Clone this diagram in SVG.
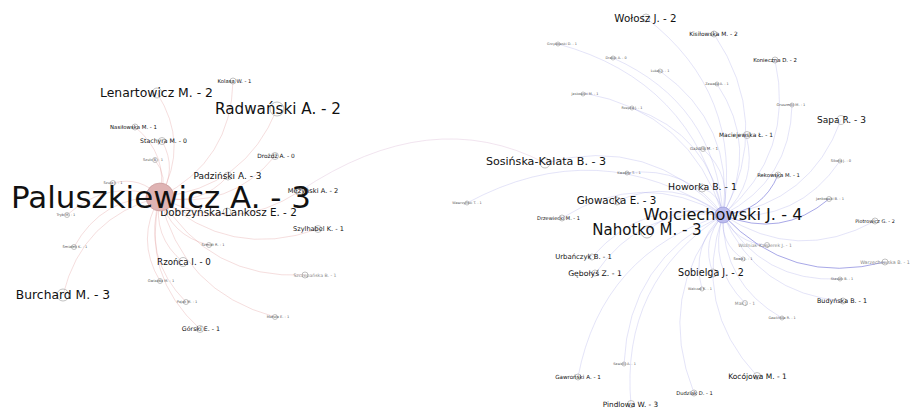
<svg xmlns="http://www.w3.org/2000/svg" width="910" height="408" viewBox="0 0 910 408">
<style>
text{font-family:"DejaVu Sans","Liberation Sans",sans-serif;text-anchor:middle;fill:#111}
.t{fill:#555}
.g{fill:#888}
.el{fill:none;stroke:rgba(222,150,150,0.4);stroke-width:0.8}
.er{fill:none;stroke:rgba(150,150,228,0.32);stroke-width:0.8}
.er2{fill:none;stroke:rgba(110,110,215,0.6);stroke-width:1}
.ex{fill:none;stroke:rgba(215,180,210,0.45);stroke-width:0.8}
circle{fill:#fff;fill-opacity:0.2;stroke:#999;stroke-width:0.6}
#paluszkiewicz circle{fill:#dfb3b3;fill-opacity:1;stroke:#c49494}
#wojciechowski circle{fill:#bcbcee;fill-opacity:1;stroke:#8e8ed4}
</style>
<rect width="910" height="408" fill="#fff"/>
<g id="edges">
<path class="ex" d="M545,163 Q430.9,103.5 300,191"/>
<path class="el" d="M160,197 Q189.7,144.1 157,93"/>
<path class="el" d="M160,197 Q244.9,188.1 277,109"/>
<path class="el" d="M160,197 Q231.3,160.9 233,81"/>
<path class="el" d="M160,197 Q168.5,154.5 135,127"/>
<path class="el" d="M160,197 Q177.8,169.6 162,141"/>
<path class="el" d="M160,197 Q168.6,177 155,160"/>
<path class="el" d="M160,197 Q229.8,211 275,156"/>
<path class="el" d="M160,197 Q200.3,206.9 228,176"/>
<path class="el" d="M160,197 Q231.8,236 300,191"/>
<path class="el" d="M160,197 Q189,224.6 227,212"/>
<path class="el" d="M160,197 Q229.4,260.4 318,229"/>
<path class="el" d="M160,197 Q82.1,216.9 63,295"/>
<path class="el" d="M160,197 Q152,236.4 183,262"/>
<path class="el" d="M160,197 Q140.7,175.9 113,183"/>
<path class="el" d="M160,197 Q108.1,178.1 67,215"/>
<path class="el" d="M160,197 Q102,196.2 74,247"/>
<path class="el" d="M160,197 Q134.8,239 160,281"/>
<path class="el" d="M160,197 Q170.1,235.7 209,245"/>
<path class="el" d="M160,197 Q209.1,279.5 305,275"/>
<path class="el" d="M160,197 Q141.5,257.3 186,302"/>
<path class="el" d="M160,197 Q181.5,291.5 275,317"/>
<path class="el" d="M160,197 Q140.4,275 200,329"/>
<path class="er" d="M723,215 Q743.6,93.4 646,18"/>
<path class="er" d="M723,215 Q772.8,121.8 714,34"/>
<path class="er" d="M723,215 Q795.5,153.1 775,60"/>
<path class="er" d="M723,215 Q810.5,202.9 841,120"/>
<path class="er" d="M723,215 Q691.8,80 558,44"/>
<path class="er" d="M723,215 Q715.1,103.5 613,58"/>
<path class="er" d="M723,215 Q734.7,124.1 660,71"/>
<path class="er" d="M723,215 Q759.3,147.7 717,84"/>
<path class="er" d="M723,215 Q690.1,112.3 584,93"/>
<path class="er" d="M723,215 Q709.6,134.2 632,108"/>
<path class="er" d="M723,215 Q790.5,180.7 792,105"/>
<path class="er" d="M723,215 Q758.5,181.9 746,135"/>
<path class="er" d="M723,215 Q732.8,176 703,149"/>
<path class="er" d="M723,215 Q650.2,134.6 545,163"/>
<path class="er" d="M723,215 Q687.6,165.2 627,173"/>
<path class="er2" d="M723,215 Q762.5,211.5 778,175"/>
<path class="er" d="M723,215 Q797.7,223.1 840,161"/>
<path class="er" d="M723,215 Q720.9,194.7 702,188"/>
<path class="er2" d="M723,215 Q781.3,239.1 829,199"/>
<path class="er" d="M723,215 Q598.1,131.9 467,203"/>
<path class="er" d="M723,215 Q674.2,176.2 617,201"/>
<path class="er" d="M723,215 Q641.6,168.2 562,218"/>
<path class="er" d="M723,215 Q679.9,200.7 647,232"/>
<path class="er" d="M723,215 Q797.2,263.6 875,221"/>
<path class="er" d="M723,215 Q736,243.2 767,245"/>
<path class="er2" d="M723,215 Q790.2,286.6 885,262"/>
<path class="er" d="M723,215 Q644.9,196.7 592,257"/>
<path class="er" d="M723,215 Q719.8,243 743,259"/>
<path class="er" d="M723,215 Q641.3,206.1 595,274"/>
<path class="er" d="M723,215 Q700.6,241 713,273"/>
<path class="er" d="M723,215 Q762,282.6 840,279"/>
<path class="er" d="M723,215 Q690.3,245.7 702,289"/>
<path class="er" d="M723,215 Q707.6,265.6 745,303"/>
<path class="er" d="M723,215 Q757.2,294 843,301"/>
<path class="er" d="M723,215 Q721.9,283.7 782,318"/>
<path class="er" d="M723,215 Q601.9,252.5 578,377"/>
<path class="er" d="M723,215 Q628.8,259.8 624,364"/>
<path class="er" d="M723,215 Q691.7,305.7 757,376"/>
<path class="er" d="M723,215 Q655.1,295.3 694,393"/>
<path class="er" d="M723,215 Q619.8,281.6 631,405"/>
</g>
<g id="lenartowicz"><circle cx="157" cy="93" r="5"/><text x="156.5" y="93" dy=".35em" font-size="12.4">Lenartowicz M. - 2</text></g>
<g id="radwanski"><circle cx="277" cy="109" r="7"/><text x="278" y="109" dy=".35em" font-size="15.2">Radwański A. - 2</text></g>
<g id="kolasa"><circle cx="233" cy="81" r="3"/><text x="234.5" y="81" dy=".35em" font-size="5.3">Kolasa W. - 1</text></g>
<g id="nasilowska"><circle cx="135" cy="127" r="3"/><text x="133.5" y="127" dy=".35em" font-size="5.4">Nasiłowska M. - 1</text></g>
<g id="stachyra"><circle cx="162" cy="141" r="3.5"/><text x="163.5" y="141" dy=".35em" font-size="6.2">Stachyra M. - 0</text></g>
<g id="szulc"><circle cx="155" cy="160" r="2.5"/><text class="t" x="153" y="160" dy=".35em" font-size="3.6">Szulc B. - 1</text></g>
<g id="drozdz"><circle cx="275" cy="156" r="3.5"/><text x="276" y="156" dy=".35em" font-size="5.9">Drożdż A. - 0</text></g>
<g id="padzinski"><circle cx="228" cy="176" r="4"/><text x="227.5" y="176" dy=".35em" font-size="9">Padziński A. - 3</text></g>
<g id="mezynski"><circle cx="300" cy="191" r="3.5"/><text x="313" y="191" dy=".35em" font-size="6.7">Mężyński A. - 2</text></g>
<g id="szylhabel"><circle cx="318" cy="229" r="3.5"/><text x="318.5" y="229" dy=".35em" font-size="6.6">Szylhabel K. - 1</text></g>
<g id="burchard"><circle cx="63" cy="295" r="6"/><text x="63" y="295" dy=".35em" font-size="12.3">Burchard M. - 3</text></g>
<g id="rzonca"><circle cx="183" cy="262" r="4.5"/><text x="184" y="262" dy=".35em" font-size="8.7">Rzońca I. - 0</text></g>
<g id="szuja"><circle cx="113" cy="183" r="2.5"/><text class="t" x="113" y="183" dy=".35em" font-size="3.6">Szuja J. - 1</text></g>
<g id="tryb"><circle cx="67" cy="215" r="2.5"/><text class="t" x="66" y="215" dy=".35em" font-size="3.6">Tryb M. - 1</text></g>
<g id="smialek"><circle cx="74" cy="247" r="2.5"/><text class="t" x="75" y="247" dy=".35em" font-size="3.6">Śmiałek K. - 1</text></g>
<g id="gwiazda"><circle cx="160" cy="281" r="2.5"/><text class="t" x="161" y="281" dy=".35em" font-size="3.6">Gwiazda M. - 1</text></g>
<g id="szmidt"><circle cx="209" cy="245" r="2.5"/><text class="t" x="213" y="245" dy=".35em" font-size="3.6">Szmidt R. - 1</text></g>
<g id="szczepanska"><circle cx="305" cy="275" r="3"/><text class="g" x="315" y="275" dy=".35em" font-size="4.6">Szczepańska B. - 1</text></g>
<g id="pajak"><circle cx="186" cy="302" r="2.5"/><text class="t" x="187" y="302" dy=".35em" font-size="3.6">Pająk M. - 1</text></g>
<g id="matula"><circle cx="275" cy="317" r="2.5"/><text class="t" x="278" y="317" dy=".35em" font-size="3.6">Matuła E. - 1</text></g>
<g id="gorski"><circle cx="200" cy="329" r="3.5"/><text x="201" y="329" dy=".35em" font-size="6.3">Górski E. - 1</text></g>
<g id="dobrzynska"><circle cx="227" cy="212" r="4"/><text x="228.5" y="212" dy=".35em" font-size="10.4">Dobrzyńska-Lankosz E. - 2</text></g>
<g id="paluszkiewicz"><circle cx="160" cy="197" r="14"/><text x="161" y="197" dy=".35em" font-size="30.9">Paluszkiewicz A. - 3</text></g>
<g id="wolosz"><circle cx="646" cy="18" r="4"/><text x="645.5" y="18" dy=".35em" font-size="10.3">Wołosz J. - 2</text></g>
<g id="kisilowska"><circle cx="714" cy="34" r="3"/><text x="713.5" y="34" dy=".35em" font-size="5.9">Kisiłowska M. - 2</text></g>
<g id="konieczna"><circle cx="775" cy="60" r="3"/><text x="775" y="60" dy=".35em" font-size="5.4">Konieczna D. - 2</text></g>
<g id="sapa"><circle cx="841" cy="120" r="4.5"/><text x="841.5" y="120" dy=".35em" font-size="9">Sapa R. - 3</text></g>
<g id="grzybowski"><circle cx="558" cy="44" r="2"/><text class="t" x="562" y="44" dy=".35em" font-size="3.4">Grzybowski D. - 1</text></g>
<g id="drabik"><circle cx="613" cy="58" r="2"/><text class="t" x="616" y="58" dy=".35em" font-size="3.4">Drabik A. - 0</text></g>
<g id="lubas"><circle cx="660" cy="71" r="2"/><text class="t" x="660" y="71" dy=".35em" font-size="3.4">Lubas J. - 1</text></g>
<g id="zawada"><circle cx="717" cy="84" r="2"/><text class="t" x="717" y="84" dy=".35em" font-size="3.4">Zawada A. - 1</text></g>
<g id="jaskowski"><circle cx="583" cy="94" r="2"/><text class="t" x="585" y="94" dy=".35em" font-size="3.4">Jaskowski M. - 1</text></g>
<g id="rzepka"><circle cx="632" cy="108" r="2"/><text class="t" x="632" y="108" dy=".35em" font-size="3.4">Rzepka J. - 1</text></g>
<g id="gruszecki"><circle cx="792" cy="105" r="2"/><text class="t" x="791" y="105" dy=".35em" font-size="3.6">Gruszecki M. - 1</text></g>
<g id="maciejewska"><circle cx="747" cy="135" r="3.5"/><text x="746" y="135" dy=".35em" font-size="5.9">Maciejewska Ł. - 1</text></g>
<g id="gazdzik"><circle cx="703" cy="149" r="2.5"/><text class="t" x="704" y="149" dy=".35em" font-size="4">Gaździk M. - 1</text></g>
<g id="sosinska"><circle cx="545" cy="163" r="5"/><text x="546" y="161" dy=".35em" font-size="11.1">Sosińska-Kalata B. - 3</text></g>
<g id="kwasny"><circle cx="627" cy="173" r="2"/><text class="t" x="629" y="173" dy=".35em" font-size="3.6">Kwaśny T. - 1</text></g>
<g id="rekowska"><circle cx="778" cy="175" r="3"/><text x="778.5" y="175" dy=".35em" font-size="5.3">Rekowska M. - 1</text></g>
<g id="sikora"><circle cx="840" cy="161" r="2"/><text class="t" x="841" y="161" dy=".35em" font-size="3.6">Sikora J. - 0</text></g>
<g id="howorka"><circle cx="702" cy="188" r="4"/><text x="702.5" y="187" dy=".35em" font-size="9.4">Howorka B. - 1</text></g>
<g id="jankowski"><circle cx="829" cy="199" r="2.5"/><text class="t" x="830" y="199" dy=".35em" font-size="3.6">Jankowski B. - 1</text></g>
<g id="wawrzynski"><circle cx="467" cy="203" r="2"/><text class="t" x="467" y="203" dy=".35em" font-size="3.4">Wawrzyński T. - 1</text></g>
<g id="glowacka"><circle cx="617" cy="201" r="4"/><text x="616.5" y="200" dy=".35em" font-size="10.3">Głowacka E. - 3</text></g>
<g id="drzewiecki"><circle cx="562" cy="218" r="3"/><text x="558.5" y="218" dy=".35em" font-size="5">Drzewiecki M. - 1</text></g>
<g id="piotrowicz"><circle cx="875" cy="221" r="3"/><text x="875" y="221" dy=".35em" font-size="4.9">Piotrowicz G. - 2</text></g>
<g id="wozniak"><circle cx="767" cy="245" r="2.5"/><text class="g" x="765" y="245" dy=".35em" font-size="4.6">Woźniak-Kasperek J. - 1</text></g>
<g id="warzechowska"><circle cx="885" cy="262" r="3"/><text class="g" x="885" y="262" dy=".35em" font-size="4.8">Warzęchowska B. - 1</text></g>
<g id="urbanczyk"><circle cx="592" cy="257" r="3"/><text x="583.5" y="257" dy=".35em" font-size="6.9">Urbańczyk B. - 1</text></g>
<g id="sowa"><circle cx="743" cy="259" r="2"/><text class="t" x="743" y="259" dy=".35em" font-size="3.6">Sowa J. - 1</text></g>
<g id="gebolys"><circle cx="595" cy="273" r="3"/><text x="595" y="273" dy=".35em" font-size="7.7">Gębołyś Z. - 1</text></g>
<g id="stasiak"><circle cx="840" cy="279" r="2"/><text class="t" x="842" y="279" dy=".35em" font-size="3.4">Stasiak B. - 1</text></g>
<g id="walczak"><circle cx="702" cy="289" r="2"/><text class="t" x="700" y="289" dy=".35em" font-size="3.4">Walczak K. - 1</text></g>
<g id="mak"><circle cx="745" cy="303" r="2.5"/><text class="g" x="745" y="303" dy=".35em" font-size="4.4">Mak J. - 1</text></g>
<g id="budynska"><circle cx="843" cy="301" r="3"/><text x="842" y="301" dy=".35em" font-size="6.4">Budyńska B. - 1</text></g>
<g id="gawlinska"><circle cx="782" cy="318" r="2"/><text class="t" x="782" y="318" dy=".35em" font-size="3.4">Gawlińska R. - 1</text></g>
<g id="gawronski"><circle cx="578" cy="377" r="3"/><text x="578" y="377" dy=".35em" font-size="5.6">Gawroński A. - 1</text></g>
<g id="sawicki"><circle cx="624" cy="364" r="2"/><text class="t" x="624.5" y="364" dy=".35em" font-size="3.4">Sawicki A. - 1</text></g>
<g id="kocojowa"><circle cx="757" cy="376" r="3.5"/><text x="757.5" y="376" dy=".35em" font-size="7.5">Kocójowa M. - 1</text></g>
<g id="dudziak"><circle cx="694" cy="393" r="3"/><text x="694.5" y="393" dy=".35em" font-size="5.2">Dudziak D. - 1</text></g>
<g id="pindlowa"><circle cx="631" cy="404" r="3.5"/><text x="630.5" y="404" dy=".35em" font-size="7.3">Pindlowa W. - 3</text></g>
<g id="sobielga"><circle cx="713" cy="273" r="4"/><text x="711" y="273" dy=".35em" font-size="9.6">Sobielga J. - 2</text></g>
<g id="nahotko"><circle cx="647" cy="232" r="6"/><text x="647" y="230" dy=".35em" font-size="15">Nahotko M. - 3</text></g>
<g id="wojciechowski"><circle cx="723" cy="215" r="8"/><text x="723" y="214" dy=".35em" font-size="16.2">Wojciechowski J. - 4</text></g>
</svg>
